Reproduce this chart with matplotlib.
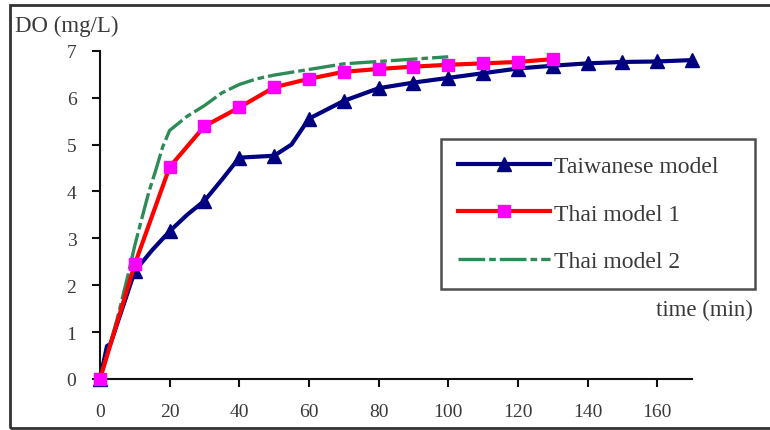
import matplotlib
matplotlib.use("Agg")
import matplotlib.pyplot as plt
from matplotlib.patches import Rectangle

# ---- data ----
tw_t = [0, 2, 3, 10, 15, 20, 25, 30, 35, 40, 50, 55, 60, 70, 80, 90, 100, 110, 120, 130, 140, 150, 160, 170]
tw_do = [0, 0.7, 0.75, 2.3, 2.75, 3.15, 3.5, 3.8, 4.25, 4.72, 4.76, 5.0, 5.55, 5.93, 6.2, 6.32, 6.42, 6.52, 6.62, 6.68, 6.73, 6.76, 6.77, 6.8]

th1_t = [0, 10, 20, 30, 40, 50, 60, 70, 80, 90, 100, 110, 120, 130]
th1_do = [0, 2.45, 4.52, 5.39, 5.79, 6.22, 6.4, 6.55, 6.61, 6.66, 6.7, 6.73, 6.76, 6.82]

th2_t = [0, 2, 5, 8, 10, 12, 14, 16, 18, 20, 25, 30, 35, 40, 45, 50, 60, 70, 80, 90, 100]
th2_do = [0, 0.5, 1.3, 2.2, 2.85, 3.42, 3.98, 4.45, 4.95, 5.3, 5.6, 5.83, 6.1, 6.28, 6.4, 6.48, 6.6, 6.72, 6.77, 6.82, 6.87]

labels = ["Taiwanese model", "Thai model 1", "Thai model 2"]
xticks = [0, 20, 40, 60, 80, 100, 120, 140, 160]
yticks = [0, 1, 2, 3, 4, 5, 6, 7]

serif = ["Liberation Serif", "DejaVu Serif"]
txtcol = "#3a3a3a"

fig = plt.figure(figsize=(7.7, 4.31), dpi=100)
ax = fig.add_axes([100/770, (431-380)/431, (692-100)/770, (380-51.7)/431])

marks = [i for i, t in enumerate(tw_t) if t % 10 == 0]
ax.plot(tw_t, tw_do, color="#000080", lw=3, marker="^", markersize=10,
        markevery=marks, label=labels[0], zorder=2, clip_on=False)
ax.plot(th2_t, th2_do, color="#2e8b57", lw=2.4, dashes=(8, 1.2, 2, 1.2),
        label=labels[2], zorder=3, clip_on=False)
ax.plot(th1_t, th1_do, color="#ff0000", lw=3, marker="s", markersize=9,
        markerfacecolor="#ff00ff", markeredgecolor="#ff00ff",
        label=labels[1], zorder=4, clip_on=False)

ax.set_xlim(0, 170)
ax.set_ylim(0, 7)
ax.set_xticks(xticks)
ax.set_yticks(yticks)
for s in ["top", "right"]:
    ax.spines[s].set_visible(False)
for s in ["left", "bottom"]:
    ax.spines[s].set_linewidth(1.5)
    ax.spines[s].set_color("#111111")
ax.tick_params(axis="both", direction="out", length=6, width=1.5, color="#111111",
               labelsize=14, labelcolor=txtcol, pad=11)
for lab in ax.get_xticklabels() + ax.get_yticklabels():
    lab.set_fontfamily(serif)

fig.text(15/770, 1 - 26.7/431, "DO (mg/L)", fontsize=16.5, family=serif,
         color=txtcol, ha="left", va="center")
fig.text(753/770, 1 - 310/431, "time (min)", fontsize=16.5, family=serif,
         color=txtcol, ha="right", va="center")

h, l = ax.get_legend_handles_labels()
order = [0, 2, 1]
x0, x1 = 441/770, 755/770
ytop = 1 - 140/431
leg = fig.legend([h[i] for i in order], [l[i] for i in order],
                 loc="upper left", bbox_to_anchor=(x0, ytop - 0.5, x1 - x0, 0.5),
                 mode="expand",
                 prop={"family": serif, "size": 17}, frameon=True,
                 fancybox=False, shadow=False, handlelength=3.9,
                 handletextpad=0.2, labelspacing=1.1, borderpad=0.7,
                 borderaxespad=0, markerscale=1.0)
for t in leg.get_texts():
    t.set_color(txtcol)
leg.get_frame().set_edgecolor("#222222")
leg.get_frame().set_linewidth(1.8)

fig.patches.append(Rectangle((10/770, 2/431), 1.0, (429-7)/431 + 0.003,
                             transform=fig.transFigure, fill=False,
                             edgecolor="#333333", linewidth=2))

fig.savefig("out.png", dpi=100)
